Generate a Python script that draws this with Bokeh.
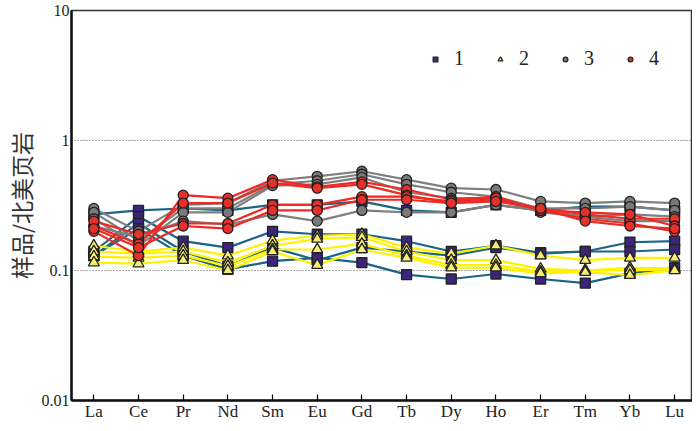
from bokeh.plotting import figure
from bokeh.models import FixedTicker, Legend, LegendItem
from bokeh.embed import file_html
from bokeh.resources import INLINE

elements = ["La", "Ce", "Pr", "Nd", "Sm", "Eu", "Gd", "Tb", "Dy", "Ho", "Er", "Tm", "Yb", "Lu"]
y_ticks = [0.01, 0.1, 1, 10]
y_tick_labels = ["0.01", "0.1", "1", "10"]

group1 = [
    [0.27, 0.29, 0.30, 0.29, 0.32, 0.32, 0.34, 0.29, 0.28, 0.32, 0.29, 0.31, 0.31, 0.29],
    [0.14, 0.26, 0.168, 0.15, 0.20, 0.19, 0.19, 0.168, 0.14, 0.155, 0.137, 0.14, 0.165, 0.168],
    [0.13, 0.23, 0.14, 0.108, 0.15, 0.12, 0.15, 0.14, 0.13, 0.15, 0.135, 0.14, 0.14, 0.145],
    [0.13, 0.21, 0.13, 0.102, 0.118, 0.125, 0.115, 0.093, 0.086, 0.094, 0.086, 0.08, 0.095, 0.105],
]
group2 = [
    [0.155, 0.14, 0.15, 0.13, 0.17, 0.185, 0.19, 0.15, 0.135, 0.155, 0.13, 0.12, 0.125, 0.125],
    [0.14, 0.135, 0.14, 0.115, 0.155, 0.175, 0.18, 0.14, 0.12, 0.12, 0.103, 0.10, 0.105, 0.104],
    [0.128, 0.125, 0.13, 0.108, 0.145, 0.145, 0.16, 0.13, 0.11, 0.11, 0.098, 0.10, 0.10, 0.102],
    [0.115, 0.113, 0.12, 0.10, 0.14, 0.11, 0.145, 0.125, 0.105, 0.105, 0.095, 0.097, 0.092, 0.10],
]
group3 = [
    [0.30, 0.20, 0.32, 0.33, 0.49, 0.53, 0.58, 0.50, 0.43, 0.42, 0.34, 0.33, 0.34, 0.33],
    [0.28, 0.17, 0.30, 0.30, 0.46, 0.49, 0.55, 0.46, 0.40, 0.37, 0.30, 0.30, 0.31, 0.29],
    [0.25, 0.155, 0.28, 0.28, 0.45, 0.46, 0.52, 0.40, 0.36, 0.36, 0.28, 0.26, 0.24, 0.24],
    [0.22, 0.18, 0.24, 0.225, 0.27, 0.24, 0.29, 0.28, 0.28, 0.32, 0.29, 0.26, 0.27, 0.26],
]
group4 = [
    [0.20, 0.13, 0.38, 0.36, 0.50, 0.44, 0.48, 0.42, 0.35, 0.37, 0.29, 0.25, 0.23, 0.20],
    [0.22, 0.16, 0.33, 0.33, 0.47, 0.43, 0.46, 0.38, 0.33, 0.35, 0.30, 0.27, 0.25, 0.25],
    [0.24, 0.19, 0.23, 0.23, 0.32, 0.32, 0.37, 0.37, 0.34, 0.36, 0.29, 0.28, 0.27, 0.22],
    [0.21, 0.15, 0.22, 0.21, 0.29, 0.29, 0.35, 0.35, 0.33, 0.34, 0.30, 0.24, 0.22, 0.21],
]
legend_labels = ["1", "2", "3", "4"]

SERIF = "'Liberation Serif', 'Times New Roman', serif"

styles = [
    dict(line="#1a6485", marker="square", fill="#3b2479", size=10, lsize=9),
    dict(line="#fff200", marker="triangle", fill="#f5ee6e", size=11, lsize=10),
    dict(line="#7f7f7f", marker="circle", fill="#7a7a7a", size=10, lsize=9),
    dict(line="#ee2a24", marker="circle", fill="#e8302a", size=10, lsize=9),
]

p = figure(width=692, height=423, y_axis_type="log",
           x_range=(-0.5, 13.4), y_range=(0.01, 10),
           output_backend="svg", toolbar_location=None,
           min_border_left=0, min_border_right=0, min_border_top=10, min_border_bottom=0)

x = list(range(len(elements)))
groups = [group1, group2, group3, group4]
for g, st in zip(groups, styles):
    for sample in g:
        p.line(x, sample, line_color=st["line"], line_width=2.2)
for g, st in zip(groups, styles):
    for sample in g:
        p.scatter(x, sample, marker=st["marker"], size=st["size"],
                  fill_color=st["fill"], line_color="#222222", line_width=1.3)

# legend entries (renderers whose single point lies outside the drawn range)
items = []
for lab, st in zip(legend_labels, styles):
    r = p.scatter(x=[-100], y=[1e-6], marker=st["marker"], size=st["lsize"],
                  fill_color=st["fill"], line_color="#222222", line_width=1.2)
    items.append(LegendItem(label=lab, renderers=[r]))
leg = Legend(items=items, orientation="horizontal", location=(358, 330),
             border_line_color=None, background_fill_alpha=0,
             label_text_font=SERIF, label_text_font_size="20px",
             label_text_color="#222222",
             glyph_width=12, glyph_height=20, label_standoff=13, spacing=20,
             padding=0, margin=0, label_height=20)
p.add_layout(leg, "center")

# axes
p.xaxis.ticker = FixedTicker(ticks=x)
p.xaxis.major_label_overrides = {i: e for i, e in enumerate(elements)}
p.xaxis.major_label_text_font = SERIF
p.xaxis.major_label_text_font_size = "17px"
p.xaxis.major_label_text_color = "#222222"
p.xaxis.major_tick_in = 6
p.xaxis.major_tick_out = 0
p.xaxis.major_tick_line_width = 1.2
p.xaxis.minor_tick_line_color = None
p.xaxis.axis_line_width = 2.5
p.xaxis.axis_line_color = "#111111"
p.xaxis.major_label_standoff = 1

p.yaxis.ticker = FixedTicker(ticks=y_ticks)
p.yaxis.major_label_overrides = {t: l for t, l in zip(y_ticks, y_tick_labels)}
p.yaxis.major_label_text_font = SERIF
p.yaxis.major_label_text_font_size = "16px"
p.yaxis.major_label_text_color = "#222222"
p.yaxis.major_tick_in = 0
p.yaxis.major_tick_out = 0
p.yaxis.minor_tick_line_color = None
p.yaxis.axis_line_width = 2.5
p.yaxis.axis_line_color = "#111111"
p.yaxis.major_label_standoff = 2
p.yaxis.axis_label = "样品/北美页岩"
p.yaxis.axis_label_text_font = "Noto Sans CJK SC"
p.yaxis.axis_label_text_font_size = "23px"
p.yaxis.axis_label_text_font_style = "normal"
p.yaxis.axis_label_text_color = "#333333"
p.yaxis.axis_label_standoff = 1

p.xgrid.grid_line_color = None
p.ygrid.ticker = FixedTicker(ticks=[0.1, 1])
p.ygrid.grid_line_color = "#555555"
p.ygrid.grid_line_dash = "1 2"
p.ygrid.grid_line_width = 1

p.outline_line_color = "#333333"
p.outline_line_width = 1.5
p.background_fill_color = "white"
p.border_fill_color = "white"

open("out.html", "w").write(file_html(p, INLINE))
